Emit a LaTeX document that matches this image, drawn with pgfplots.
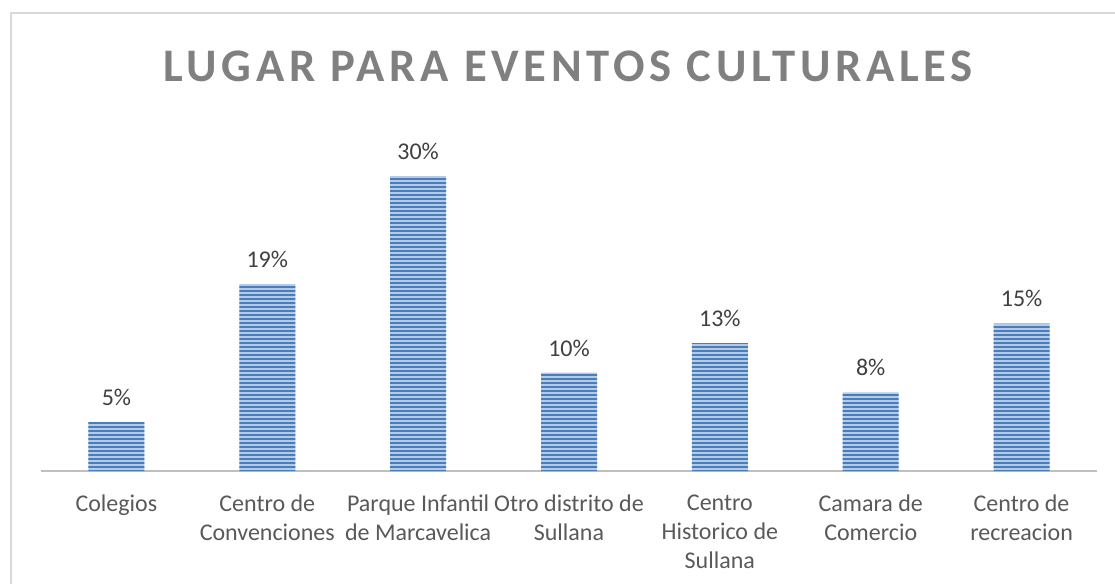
\documentclass[border=0pt]{standalone}
\usepackage{fontspec}
\setmainfont{Carlito}
\usepackage{pgfplots}
\pgfplotsset{compat=1.18}
\usetikzlibrary{patterns.meta}
\definecolor{barblue}{HTML}{4A7EBB}
\definecolor{barlight}{HTML}{B4CAE6}
\definecolor{titlegray}{HTML}{808080}
\definecolor{labgray}{HTML}{595959}
\definecolor{valgray}{HTML}{404040}
\definecolor{axisgray}{HTML}{BFBFBF}
\definecolor{framegray}{HTML}{D9D9D9}
\newfontfamily\titlefont[LetterSpace=10]{Carlito}
\begin{document}
\begin{tikzpicture}
\useasboundingbox (0pt,0pt) rectangle (836.25pt,437.25pt);
\clip (0pt,0pt) rectangle (836.25pt,437.25pt);
\draw[framegray, line width=1pt] (8.25pt,-10pt) -- (8.25pt,427.5pt) -- (850pt,427.5pt);
\node[anchor=base, font=\titlefont\fontsize{35}{42}\selectfont\bfseries, text=titlegray] at (426pt,375.75pt) {LUGAR PARA EVENTOS CULTURALES};
\begin{axis}[
  at={(30.75pt,84pt)}, anchor=south west,
  scale only axis, width=792pt, height=263.25pt,
  xmin=-0.5, xmax=6.5, ymin=0, ymax=35.7,
  axis x line*=bottom, axis y line=none,
  x axis line style={axisgray, line width=1.8pt, -},
  ytick=\empty,
  xtick=data,
  xticklabels={Colegios, {Centro de\\Convenciones}, {Parque Infantil\\de Marcavelica}, {Otro distrito de\\Sullana}, {Centro\\Historico de\\Sullana}, {Camara de\\Comercio}, {Centro de\\recreacion}},
  major tick length=0pt,
  xticklabel style={font=\fontsize{18}{22}\selectfont, text=labgray, align=center, anchor=north, yshift=-14.25pt},
  ybar, bar width=42pt,
  /pgf/number format/assume math mode=true,
  nodes near coords={\pgfmathprintnumber{\pgfplotspointmeta}\%},
  every node near coord/.append style={font=\fontsize{18}{21.4}\selectfont, text=valgray, anchor=base, yshift=12.4pt},
  clip=false,
]
\addplot[draw=none, fill=barlight, postaction={pattern={Lines[angle=0, distance=3pt, line width=1.6pt]}, pattern color=barblue}] coordinates {(0,5) (1,19) (2,30) (3,10) (4,13) (5,8) (6,15)};
\end{axis}
\end{tikzpicture}
\end{document}
